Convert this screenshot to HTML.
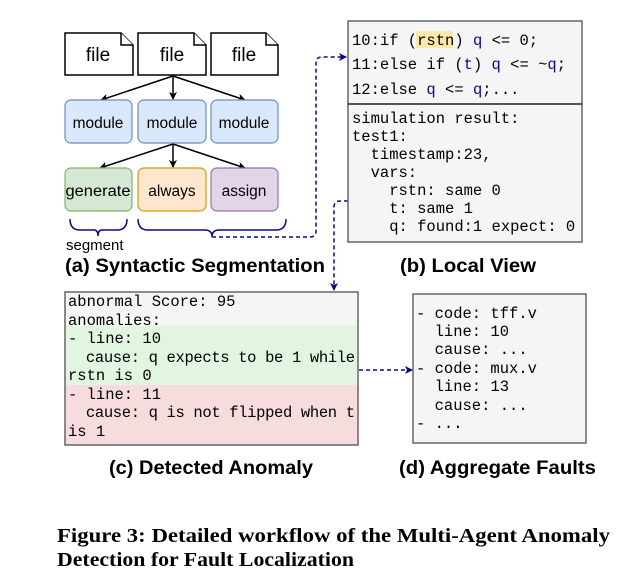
<!DOCTYPE html>
<html><head><meta charset="utf-8"><style>
html,body{margin:0;padding:0;background:#fff;}
svg{display:block;}
.s{font-family:"Liberation Sans",sans-serif;}
.m{font-family:"Liberation Mono",monospace;font-size:15.5px;}
.b{font-family:"Liberation Sans",sans-serif;font-weight:bold;font-size:19px;}
</style></head><body>
<svg width="642" height="586" viewBox="0 0 642 586" xmlns="http://www.w3.org/2000/svg">
<defs>
<marker id="ah" markerWidth="8" markerHeight="8" refX="7" refY="4" orient="auto" markerUnits="userSpaceOnUse"><path d="M0,0 L8,4 L0,8 L2,4 z" fill="#000"/></marker>
<marker id="bh" markerWidth="8" markerHeight="8" refX="7" refY="4" orient="auto" markerUnits="userSpaceOnUse"><path d="M0,0 L8,4 L0,8 L2,4 z" fill="#0a0a8c"/></marker>
</defs>
<g fill="#fff" stroke="#000" stroke-width="1.5">
<path d="M65,33 H121 L133,45 V75 H65 Z"/><path d="M121,33 V45 H133"/>
<path d="M138,33 H194 L206,45 V75 H138 Z"/><path d="M194,33 V45 H206"/>
<path d="M211,33 H266 L278,45 V75 H211 Z"/><path d="M266,33 V45 H278"/>
</g>
<g class="s" font-size="19" text-anchor="middle"><text x="98" y="61">file</text><text x="172" y="61">file</text><text x="244" y="61">file</text></g>
<g stroke="#000" stroke-width="1.5" marker-end="url(#ah)">
<line x1="173" y1="76" x2="101" y2="100"/><line x1="173" y1="76" x2="173" y2="99"/><line x1="173" y1="76" x2="245" y2="100"/>
<line x1="173" y1="144" x2="100" y2="168"/><line x1="173" y1="144" x2="173" y2="167"/><line x1="173" y1="144" x2="245" y2="168"/>
</g>
<g stroke="#6c8ebf" fill="#dae8fc" stroke-width="1.2">
<rect x="65" y="100" width="67" height="43" rx="6"/><rect x="138" y="100" width="68" height="43" rx="6"/><rect x="211" y="100" width="67" height="43" rx="6"/>
</g>
<rect x="65" y="168" width="67" height="43" rx="6" fill="#d5e8d4" stroke="#82b366" stroke-width="1.2"/>
<rect x="138" y="168" width="68" height="43" rx="6" fill="#ffe6cc" stroke="#d79b00" stroke-width="1.2"/>
<rect x="211" y="168" width="67" height="43" rx="6" fill="#e1d5e7" stroke="#9673a6" stroke-width="1.2"/>
<g class="s" font-size="15.5" text-anchor="middle">
<text x="98" y="128">module</text><text x="172" y="128">module</text><text x="244" y="128">module</text>
<text x="98" y="196" textLength="65" lengthAdjust="spacingAndGlyphs">generate</text><text x="172" y="196">always</text><text x="244" y="196">assign</text>
</g>
<g fill="none" stroke="#0a0a8c" stroke-width="1.5">
<path d="M70,219 Q70,230 80,230 H94 Q98,230 98,236 Q98,230 102,230 H117 Q127,230 127,219"/>
<path d="M138,219 Q138,230 148,230 H205 Q212,230 212,237 Q212,230 219,230 H276 Q286,230 286,219"/>
</g>
<g fill="none" stroke="#0a0a8c" stroke-width="1.5" stroke-dasharray="4,3">
<path d="M212,237 H310 Q316,237 316,231 V63 Q316,57 322,57 H346" marker-end="url(#bh)"/>
<path d="M348,201 H340 Q334,201 334,207 V290" marker-end="url(#bh)"/>
<path d="M359,370 H412" marker-end="url(#bh)"/>
</g>
<text class="s" x="66" y="250" font-size="15">segment</text>
<text class="b" x="65" y="272" textLength="260" lengthAdjust="spacingAndGlyphs">(a) Syntactic Segmentation</text>
<rect x="348" y="21" width="234" height="221" fill="#f5f5f5" stroke="#666" stroke-width="1.5"/>
<line x1="348" y1="104" x2="582" y2="104" stroke="#222" stroke-width="1.5"/>
<rect x="416" y="31" width="37" height="17" fill="#ffe599" opacity="0.8"/>
<g class="m" fill="#000">
<text x="352" y="45">10:if (<tspan>rstn</tspan>) <tspan fill="#0a0a8c">q</tspan> &lt;= 0;</text>
<text x="352" y="69">11:else if (<tspan fill="#0a0a8c">t</tspan>) <tspan fill="#0a0a8c">q</tspan> &lt;= ~<tspan fill="#0a0a8c">q</tspan>;</text>
<text x="352" y="94">12:else <tspan fill="#0a0a8c">q</tspan> &lt;= <tspan fill="#0a0a8c">q</tspan>;...</text>
<text x="352" y="123" xml:space="preserve">simulation result:</text>
<text x="352" y="141" xml:space="preserve">test1:</text>
<text x="352" y="159" xml:space="preserve">  timestamp:23,</text>
<text x="352" y="177" xml:space="preserve">  vars:</text>
<text x="352" y="195" xml:space="preserve">    rstn: same 0</text>
<text x="352" y="213" xml:space="preserve">    t: same 1</text>
<text x="352" y="231" xml:space="preserve">    q: found:1 expect: 0</text>
</g>
<text class="b" x="400" y="272" textLength="136" lengthAdjust="spacingAndGlyphs">(b) Local View</text>
<rect x="65" y="292" width="293" height="34" fill="#f5f5f5"/>
<rect x="65" y="326" width="293" height="59" fill="#e2f5e0"/>
<rect x="65" y="385" width="293" height="60" fill="#f6dcdc"/>
<rect x="65" y="292" width="293" height="153" fill="none" stroke="#666" stroke-width="1.5"/>
<g class="m" fill="#000" font-size="15">
<text x="68" y="306" xml:space="preserve">abnormal Score: 95</text>
<text x="68" y="325" xml:space="preserve">anomalies:</text>
<text x="68" y="343" xml:space="preserve">- line: 10</text>
<text x="68" y="362" xml:space="preserve" textLength="287">  cause: q expects to be 1 while</text>
<text x="68" y="380" xml:space="preserve">rstn is 0</text>
<text x="68" y="399" xml:space="preserve">- line: 11</text>
<text x="68" y="417" xml:space="preserve" textLength="287">  cause: q is not flipped when t</text>
<text x="68" y="436" xml:space="preserve">is 1</text>
</g>
<text class="b" x="109" y="474" textLength="204" lengthAdjust="spacingAndGlyphs">(c) Detected Anomaly</text>
<rect x="413" y="294" width="173" height="149" fill="#f5f5f5" stroke="#666" stroke-width="1.5"/>
<g class="m" fill="#000" font-size="15">
<text x="416" y="318" xml:space="preserve">- code: tff.v</text>
<text x="416" y="336" xml:space="preserve">  line: 10</text>
<text x="416" y="354" xml:space="preserve">  cause: ...</text>
<text x="416" y="373" xml:space="preserve">- code: mux.v</text>
<text x="416" y="391" xml:space="preserve">  line: 13</text>
<text x="416" y="410" xml:space="preserve">  cause: ...</text>
<text x="416" y="428" xml:space="preserve">- ...</text>
</g>
<text class="b" x="399" y="474" textLength="197" lengthAdjust="spacingAndGlyphs">(d) Aggregate Faults</text>
<g font-family="'Liberation Serif',serif" font-weight="bold" font-size="20" fill="#000">
<text x="57" y="542" textLength="553" lengthAdjust="spacingAndGlyphs">Figure 3: Detailed workflow of the Multi-Agent Anomaly</text>
<text x="57" y="566" textLength="297" lengthAdjust="spacingAndGlyphs">Detection for Fault Localization</text>
</g>
</svg>
</body></html>
